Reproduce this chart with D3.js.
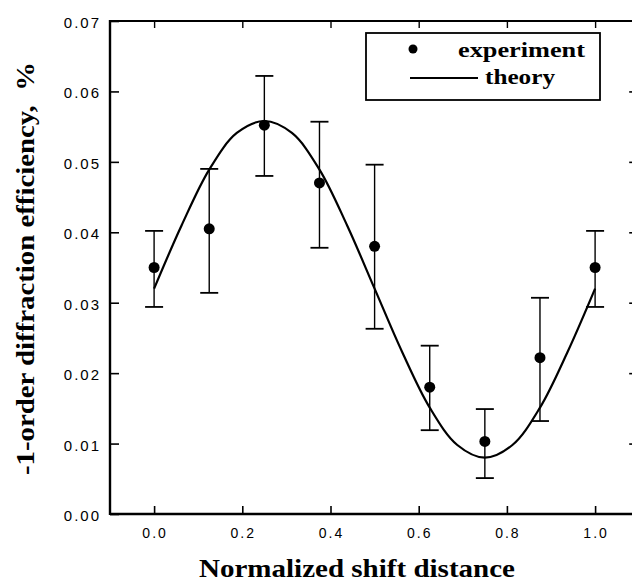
<!DOCTYPE html>
<html>
<head>
<meta charset="utf-8">
<script src="https://cdn.jsdelivr.net/npm/d3@7"></script>
<style>
  html, body { margin: 0; padding: 0; background: #fff; }
  svg { display: block; }
</style>
</head>
<body>
<svg id="chart"></svg>
<script>
// measured points
var expX = [0, 0.125, 0.25, 0.375, 0.5, 0.625, 0.75, 0.875, 1.0];
var expY = [0.035, 0.0405, 0.0552, 0.047, 0.038, 0.018, 0.0103, 0.0222, 0.035];
var errTop = [0.0402, 0.049, 0.0622, 0.0557, 0.0496, 0.0239, 0.0149, 0.0307, 0.0402];
var errBottom = [0.0294, 0.0314, 0.048, 0.0378, 0.0263, 0.0119, 0.0051, 0.0132, 0.0294];
// theory curve
var theoryX = [0, 0.0625, 0.125, 0.1875, 0.25, 0.3125, 0.375, 0.4375, 0.5, 0.5625, 0.625, 0.6875, 0.75, 0.8125, 0.875, 0.9375, 1.0];
var theoryY = [0.032, 0.041, 0.0489, 0.0541, 0.0558, 0.0541, 0.0489, 0.041, 0.032, 0.023, 0.0151, 0.0098, 0.008, 0.0098, 0.0151, 0.023, 0.032];
var xTicks = [0, 0.2, 0.4, 0.6, 0.8, 1.0];
var xTickLabels = ["0.0", "0.2", "0.4", "0.6", "0.8", "1.0"];
var yTicks = [0, 0.01, 0.02, 0.03, 0.04, 0.05, 0.06, 0.07];
var yTickLabels = ["0.00", "0.01", "0.02", "0.03", "0.04", "0.05", "0.06", "0.07"];

var width = 632, height = 581;
var svg = d3.select("#chart").attr("width", width).attr("height", height);

var plotLeft = 110, plotTop = 21, plotBottom = 514;
var x = d3.scaleLinear().domain([-0.1, 1.1]).range([plotLeft, plotLeft + 1.2 * 441]);
var y = d3.scaleLinear().domain([0, 0.07]).range([plotBottom, plotTop]);

var serif = "'Liberation Serif', 'Times New Roman', serif";
var sans = "'Liberation Sans', Arial, sans-serif";

// axes with inward ticks
var xMinor = d3.range(-0.1, 1.15, 0.1).map(function (d) { return Math.round(d * 10) / 10; });
var yMinor = d3.range(0.005, 0.07, 0.01).map(function (d) { return Math.round(d * 1000) / 1000; });

var gx = svg.append("g").attr("transform", "translate(0," + plotBottom + ")");
gx.call(d3.axisTop(x).tickValues(xMinor).tickSize(4).tickFormat(""));
gx.call(d3.axisTop(x).tickValues(xTicks).tickSize(8).tickFormat(""));
gx.selectAll(".domain").remove();
gx.selectAll("line").attr("stroke", "#000").attr("stroke-width", 1.6);
svg.append("line").attr("x1", plotLeft).attr("x2", width).attr("y1", plotBottom).attr("y2", plotBottom)
    .attr("stroke", "#000").attr("stroke-width", 2.4);

var gxt = svg.append("g").attr("transform", "translate(0," + plotTop + ")");
gxt.call(d3.axisBottom(x).tickValues(xMinor).tickSize(4).tickFormat(""));
gxt.call(d3.axisBottom(x).tickValues(xTicks).tickSize(7).tickFormat(""));
gxt.selectAll(".domain").remove();
gxt.selectAll("line").attr("stroke", "#000").attr("stroke-width", 1.4);
svg.append("line").attr("x1", plotLeft).attr("x2", width).attr("y1", plotTop).attr("y2", plotTop)
    .attr("stroke", "#000").attr("stroke-width", 1.8);

var gy = svg.append("g").attr("transform", "translate(" + plotLeft + ",0)");
gy.call(d3.axisRight(y).tickValues(yMinor).tickSize(5).tickFormat(""));
gy.call(d3.axisRight(y).tickValues(yTicks).tickSize(9).tickFormat(""));
gy.selectAll(".domain").remove();
gy.selectAll("line").attr("stroke", "#000").attr("stroke-width", 1.6);
svg.append("line").attr("x1", plotLeft).attr("x2", plotLeft).attr("y1", plotTop - 1).attr("y2", plotBottom + 1)
    .attr("stroke", "#000").attr("stroke-width", 2.4);

// right axis, mostly beyond the picture edge
var gyr = svg.append("g").attr("transform", "translate(" + x(1.1) + ",0)");
gyr.call(d3.axisLeft(y).tickValues(yTicks.slice(1, 7)).tickSize(10).tickFormat(""));
gyr.selectAll(".domain").remove();
gyr.selectAll("line").attr("stroke", "#000").attr("stroke-width", 1.6);

// tick labels
svg.append("g").selectAll("text").data(xTicks).enter().append("text")
    .attr("x", function (d) { return x(d) + 1; })
    .attr("y", plotBottom + 24)
    .attr("text-anchor", "middle")
    .style("font-family", sans).style("font-size", "14px")
    .style("letter-spacing", "2px")
    .text(function (d, i) { return xTickLabels[i]; });

svg.append("g").selectAll("text").data(yTicks).enter().append("text")
    .attr("x", plotLeft - 9)
    .attr("y", function (d) { return y(d) + 7; })
    .attr("text-anchor", "end")
    .style("font-family", sans).style("font-size", "15px")
    .style("letter-spacing", "2px")
    .text(function (d, i) { return yTickLabels[i]; });

// axis titles
svg.append("text")
    .attr("x", 199).attr("y", 577)
    .attr("textLength", 316).attr("lengthAdjust", "spacingAndGlyphs")
    .style("font-family", serif).style("font-weight", "bold").style("font-size", "25px")
    .text("Normalized shift distance");

svg.append("text")
    .attr("transform", "translate(34,475) rotate(-90)")
    .attr("textLength", 413).attr("lengthAdjust", "spacingAndGlyphs")
    .style("font-family", serif).style("font-weight", "bold").style("font-size", "25px")
    .style("white-space", "pre")
    .text("-1-order diffraction efficiency,  %");

// theory line
var line = d3.line()
    .x(function (d) { return x(d[0]); })
    .y(function (d) { return y(d[1]); })
    .curve(d3.curveCatmullRom);
svg.append("path")
    .datum(theoryX.map(function (d, i) { return [d, theoryY[i]]; }))
    .attr("d", line)
    .attr("fill", "none").attr("stroke", "#000").attr("stroke-width", 2.2);

// error bars
var eb = svg.append("g").attr("stroke", "#000").attr("stroke-width", 1.4);
expX.forEach(function (d, i) {
    eb.append("line").attr("x1", x(d)).attr("x2", x(d)).attr("y1", y(errTop[i])).attr("y2", y(errBottom[i]));
    eb.append("line").attr("x1", x(d) - 9).attr("x2", x(d) + 9).attr("y1", y(errTop[i])).attr("y2", y(errTop[i])).attr("stroke-width", 1.8);
    eb.append("line").attr("x1", x(d) - 9).attr("x2", x(d) + 9).attr("y1", y(errBottom[i])).attr("y2", y(errBottom[i])).attr("stroke-width", 1.8);
});

// points
svg.append("g").selectAll("circle").data(expX).enter().append("circle")
    .attr("cx", function (d) { return x(d); })
    .attr("cy", function (d, i) { return y(expY[i]); })
    .attr("r", 5.5)
    .attr("fill", "#000");

// legend
var lg = svg.append("g");
lg.append("rect").attr("x", 366).attr("y", 33).attr("width", 234).attr("height", 67)
    .attr("fill", "#fff").attr("stroke", "#000").attr("stroke-width", 1.8);
lg.append("circle").attr("cx", 413).attr("cy", 49).attr("r", 4.5).attr("fill", "#000");
lg.append("text").attr("x", 458).attr("y", 57)
    .attr("textLength", 127).attr("lengthAdjust", "spacingAndGlyphs")
    .style("font-family", serif).style("font-weight", "bold").style("font-size", "21px")
    .text("experiment");
lg.append("line").attr("x1", 410).attr("x2", 478).attr("y1", 78).attr("y2", 78)
    .attr("stroke", "#000").attr("stroke-width", 1.8);
lg.append("text").attr("x", 485).attr("y", 84)
    .attr("textLength", 70).attr("lengthAdjust", "spacingAndGlyphs")
    .style("font-family", serif).style("font-weight", "bold").style("font-size", "21px")
    .text("theory");
</script>
</body>
</html>
